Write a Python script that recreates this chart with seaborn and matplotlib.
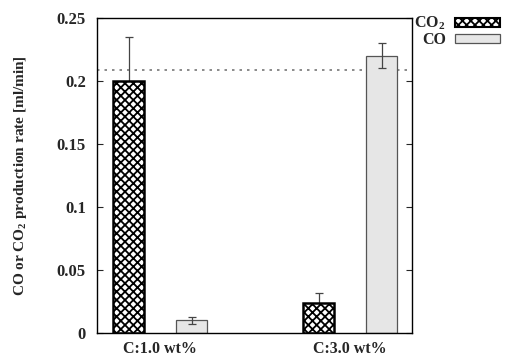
import matplotlib
matplotlib.use("Agg")
import matplotlib.pyplot as plt
import seaborn as sns
import pandas as pd
import numpy as np
from matplotlib.patches import Patch

categories = ["C:1.0 wt%", "C:3.0 wt%"]
species = ["CO$_2$", "CO"]
co2_values = [0.200, 0.024]
co_values = [0.010, 0.220]
co2_err = [0.035, 0.008]
co_err = [0.003, 0.010]
ref_line = 0.209
yticks = [0, 0.05, 0.1, 0.15, 0.2, 0.25]
ytick_labels = ["0", "0.05", "0.1", "0.15", "0.2", "0.25"]

df = pd.DataFrame({
    "cat": categories * 2,
    "species": [species[0]] * 2 + [species[1]] * 2,
    "value": co2_values + co_values,
    "err": co2_err + co_err,
})

sns.set_style("white")
plt.rcParams["font.family"] = ["Liberation Serif", "DejaVu Serif"]
plt.rcParams["font.weight"] = "bold"
plt.rcParams["mathtext.fontset"] = "custom"
plt.rcParams["mathtext.rm"] = "Liberation Serif:bold"
plt.rcParams["mathtext.it"] = "Liberation Serif:bold"
plt.rcParams["hatch.linewidth"] = 1.3

fig = plt.figure(figsize=(5.1, 3.6), dpi=100)
ax = fig.add_axes([97 / 510, 1 - 333 / 360, 315 / 510, 315 / 360])

sns.barplot(data=df, x="cat", y="value", hue="species", order=categories,
            hue_order=species, palette=["white", "#e6e6e6"], width=0.664,
            gap=0.51, errorbar=None, legend=False, ax=ax)

styles = {species[0]: dict(edgecolor="black", lw=1.8, hatch="xxxx", face="white", ez=1),
          species[1]: dict(edgecolor="#555555", lw=0.9, hatch=None, face="#e6e6e6", ez=3)}
for i, p in enumerate(ax.patches):
    sp = species[i // 2]
    st = styles[sp]
    p.set_facecolor(st["face"])
    p.set_edgecolor(st["edgecolor"])
    p.set_linewidth(st["lw"])
    p.set_zorder(2)
    if st["hatch"]:
        p.set_hatch(st["hatch"])
    row = df[(df["species"] == sp) & (df["cat"] == categories[i % 2])].iloc[0]
    xc = p.get_x() + p.get_width() / 2
    ax.errorbar(xc, row["value"], yerr=row["err"], color="#444444",
                elinewidth=0.9, capsize=3, capthick=0.9, zorder=st["ez"])

ax.axhline(ref_line, color="#777777", ls=(0, (1.5, 3)), lw=1.2, zorder=0)

ax.set_xlim(-0.332, 1.326)
ax.set_ylim(0, 0.25)
ax.set_yticks(yticks)
ax.set_yticklabels(ytick_labels, fontsize=12, fontweight="bold")
ax.tick_params(axis="y", direction="in", length=4, width=0.8, right=True, left=True, pad=8)
ax.tick_params(axis="x", length=0, labelsize=11.5, pad=6)
for lab in ax.get_xticklabels():
    lab.set_fontweight("bold")
ax.set_xlabel("")
ax.set_ylabel("CO or CO$_2$ production rate [ml/min]", fontsize=11, fontweight="bold", labelpad=20)
for s in ax.spines.values():
    s.set_color("black")
    s.set_linewidth(1.0)

handles = [Patch(facecolor="white", edgecolor="black", hatch="xxxx", lw=1.5),
           Patch(facecolor="#e6e6e6", edgecolor="#555555", lw=0.9)]
leg = fig.legend(handles, species, loc="upper right",
                 bbox_to_anchor=(500 / 510, 1 - 15 / 360),
                 frameon=False, markerfirst=False, handlelength=2.8, handleheight=0.5,
                 fontsize=11.5, labelspacing=0.0, handletextpad=0.6, borderaxespad=0,
                 borderpad=0)
for t in leg.get_texts():
    t.set_fontweight("bold")
    t.set_ha("right")

fig.savefig("out.png", dpi=100)
